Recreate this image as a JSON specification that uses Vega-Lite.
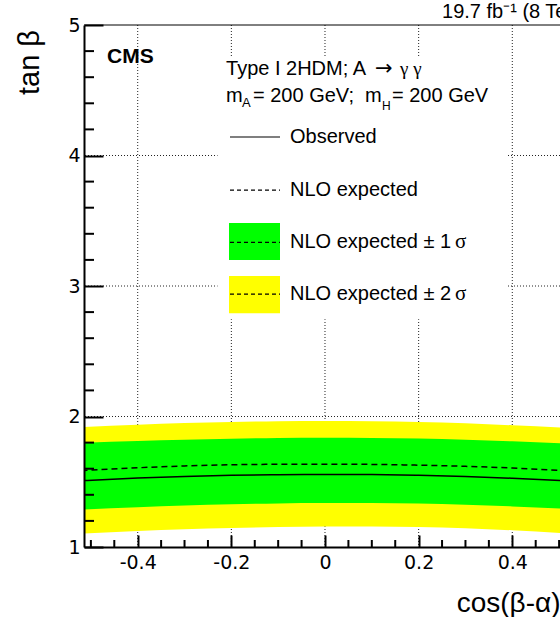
{
  "$schema": "https://vega.github.io/schema/vega-lite/v6.json",
  "width": 476,
  "height": 522,
  "autosize": {"type": "none"},
  "padding": {"left": 84, "top": 25, "right": 0, "bottom": 70},
  "background": "white",
  "config": {"view": {"stroke": null}, "font": "Liberation Sans"},
  "datasets": {
    "limits": [
      {"cba": -0.52, "obs": 1.508, "exp": 1.586, "s1lo": 1.287, "s1hi": 1.798, "s2lo": 1.102, "s2hi": 1.919},
      {"cba": -0.4, "obs": 1.528, "exp": 1.607, "s1lo": 1.305, "s1hi": 1.812, "s2lo": 1.122, "s2hi": 1.937},
      {"cba": -0.3, "obs": 1.541, "exp": 1.621, "s1lo": 1.318, "s1hi": 1.822, "s2lo": 1.136, "s2hi": 1.95},
      {"cba": -0.2, "obs": 1.549, "exp": 1.63, "s1lo": 1.328, "s1hi": 1.83, "s2lo": 1.146, "s2hi": 1.958},
      {"cba": -0.1, "obs": 1.554, "exp": 1.634, "s1lo": 1.334, "s1hi": 1.835, "s2lo": 1.153, "s2hi": 1.963},
      {"cba": 0, "obs": 1.556, "exp": 1.635, "s1lo": 1.337, "s1hi": 1.837, "s2lo": 1.157, "s2hi": 1.965},
      {"cba": 0.1, "obs": 1.555, "exp": 1.633, "s1lo": 1.337, "s1hi": 1.836, "s2lo": 1.158, "s2hi": 1.964},
      {"cba": 0.2, "obs": 1.55, "exp": 1.627, "s1lo": 1.333, "s1hi": 1.831, "s2lo": 1.154, "s2hi": 1.958},
      {"cba": 0.3, "obs": 1.541, "exp": 1.618, "s1lo": 1.324, "s1hi": 1.822, "s2lo": 1.144, "s2hi": 1.948},
      {"cba": 0.4, "obs": 1.527, "exp": 1.605, "s1lo": 1.311, "s1hi": 1.81, "s2lo": 1.128, "s2hi": 1.933},
      {"cba": 0.52, "obs": 1.507, "exp": 1.583, "s1lo": 1.292, "s1hi": 1.792, "s2lo": 1.103, "s2hi": 1.913}
    ],
    "gridx": [{"v": -0.4}, {"v": -0.2}, {"v": 0}, {"v": 0.2}, {"v": 0.4}],
    "gridy": [{"v": 2}, {"v": 3}, {"v": 4}],
    "minorx": [{"v": -0.5}, {"v": -0.45}, {"v": -0.35}, {"v": -0.3}, {"v": -0.25}, {"v": -0.15}, {"v": -0.1}, {"v": -0.05}, {"v": 0.05}, {"v": 0.1}, {"v": 0.15}, {"v": 0.25}, {"v": 0.3}, {"v": 0.35}, {"v": 0.45}, {"v": 0.5}],
    "minory": [{"v": 1.2}, {"v": 1.4}, {"v": 1.6}, {"v": 1.8}, {"v": 2.2}, {"v": 2.4}, {"v": 2.6}, {"v": 2.8}, {"v": 3.2}, {"v": 3.4}, {"v": 3.6}, {"v": 3.8}, {"v": 4.2}, {"v": 4.4}, {"v": 4.6}, {"v": 4.8}],
    "one": [{}]
  },
  "layer": [
    {
      "data": {"name": "gridx"},
      "mark": {"type": "rule", "color": "#222", "strokeWidth": 1, "strokeDash": [1, 2]},
      "encoding": {
        "x": {
          "field": "v", "type": "quantitative", "title": "cos(β-α)",
          "scale": {"domain": [-0.5147, 0.5019], "nice": false, "zero": false},
          "axis": {
            "orient": "bottom",
            "values": [-0.4, -0.2, 0, 0.2, 0.4],
            "grid": false,
            "domain": true, "domainColor": "black", "domainWidth": 2,
            "ticks": true, "tickColor": "black", "tickWidth": 2, "tickSize": -12,
            "labelExpr": "abs(datum.value) < 0.001 ? '0' : (datum.value < 0 ? '-' : '') + format(abs(datum.value), '.1f')",
            "labelFont": "DejaVu Sans", "labelFontSize": 19, "labelColor": "black",
            "labelPadding": 18, "labelFlush": false, "labelOverlap": false, "labelBound": false,
            "titleFont": "Liberation Sans", "titleFontSize": 28, "titleFontWeight": "normal", "titleColor": "black",
            "titleAnchor": "end", "titleAlign": "right", "titleBaseline": "alphabetic", "titleX": 476, "titleY": 64,
            "zindex": 1
          }
        }
      }
    },
    {
      "data": {"name": "gridy"},
      "mark": {"type": "rule", "color": "#222", "strokeWidth": 1, "strokeDash": [1, 2]},
      "encoding": {
        "y": {
          "field": "v", "type": "quantitative", "title": "tan β",
          "scale": {"domain": [1, 5], "nice": false, "zero": false},
          "axis": {
            "orient": "left",
            "values": [1, 2, 3, 4, 5],
            "grid": false,
            "domain": true, "domainColor": "black", "domainWidth": 2,
            "ticks": true, "tickColor": "black", "tickWidth": 2, "tickSize": -19,
            "labelExpr": "format(datum.value, '.0f')",
            "labelFont": "DejaVu Sans", "labelFontSize": 19, "labelColor": "black",
            "labelPadding": 23, "labelFlush": false, "labelOverlap": false, "labelBound": false,
            "titleFont": "Liberation Sans", "titleFontSize": 29, "titleFontWeight": "normal", "titleColor": "black",
            "titleAngle": 270, "titleAlign": "center", "titleBaseline": "middle", "titleX": -55, "titleY": 37,
            "zindex": 1
          }
        }
      }
    },
    {
      "data": {"name": "one"},
      "mark": {"type": "rect", "color": "white"},
      "encoding": {
        "x": {"datum": -0.2296}, "x2": {"datum": 0.3898},
        "y": {"datum": 2.746}, "y2": {"datum": 4.763}
      }
    },
    {
      "data": {"name": "limits"},
      "mark": {"type": "area", "color": "#ffff00", "interpolate": "monotone", "clip": true, "opacity": 1},
      "encoding": {
        "x": {"field": "cba", "type": "quantitative", "title": "cos(β-α)"},
        "y": {"field": "s2lo", "type": "quantitative", "title": "tan β"},
        "y2": {"field": "s2hi"}
      }
    },
    {
      "data": {"name": "limits"},
      "mark": {"type": "area", "color": "#00ff00", "interpolate": "monotone", "clip": true, "opacity": 1},
      "encoding": {
        "x": {"field": "cba", "type": "quantitative", "title": "cos(β-α)"},
        "y": {"field": "s1lo", "type": "quantitative", "title": "tan β"},
        "y2": {"field": "s1hi"}
      }
    },
    {
      "data": {"name": "limits"},
      "mark": {"type": "line", "color": "black", "strokeWidth": 1.5, "strokeDash": [6, 4], "interpolate": "monotone", "clip": true},
      "encoding": {
        "x": {"field": "cba", "type": "quantitative", "title": "cos(β-α)"},
        "y": {"field": "exp", "type": "quantitative", "title": "tan β"}
      }
    },
    {
      "data": {"name": "limits"},
      "mark": {"type": "line", "color": "black", "strokeWidth": 1.5, "interpolate": "monotone", "clip": true},
      "encoding": {
        "x": {"field": "cba", "type": "quantitative", "title": "cos(β-α)"},
        "y": {"field": "obs", "type": "quantitative", "title": "tan β"}
      }
    },
    {
      "data": {"name": "minorx"},
      "mark": {"type": "tick", "orient": "vertical", "size": 7, "thickness": 2, "color": "black", "yOffset": -3.5, "opacity": 1},
      "encoding": {"x": {"field": "v", "type": "quantitative", "title": "cos(β-α)"}, "y": {"datum": 1}}
    },
    {
      "data": {"name": "minory"},
      "mark": {"type": "tick", "orient": "horizontal", "size": 10, "thickness": 2, "color": "black", "xOffset": 5, "opacity": 1},
      "encoding": {"y": {"field": "v", "type": "quantitative", "title": "tan β"}, "x": {"datum": -0.5147}}
    },
    {
      "data": {"name": "one"},
      "mark": {"type": "rule", "color": "black", "strokeWidth": 1},
      "encoding": {"y": {"datum": 5}}
    },
    {
      "data": {"name": "one"},
      "mark": {"type": "rect", "color": "#00ff00"},
      "encoding": {"x": {"datum": -0.205}, "x2": {"datum": -0.0961}, "y": {"datum": 3.199}, "y2": {"datum": 3.482}}
    },
    {
      "data": {"name": "one"},
      "mark": {"type": "rect", "color": "#ffff00"},
      "encoding": {"x": {"datum": -0.205}, "x2": {"datum": -0.0961}, "y": {"datum": 2.792}, "y2": {"datum": 3.076}}
    },
    {
      "data": {"name": "one"},
      "mark": {"type": "rule", "color": "#555", "strokeWidth": 1.5},
      "encoding": {"x": {"datum": -0.2029}, "x2": {"datum": -0.0961}, "y": {"datum": 4.142}}
    },
    {
      "data": {"name": "one"},
      "mark": {"type": "rule", "color": "black", "strokeWidth": 1.2, "strokeDash": [4, 3]},
      "encoding": {"x": {"datum": -0.2029}, "x2": {"datum": -0.0961}, "y": {"datum": 3.735}}
    },
    {
      "data": {"name": "one"},
      "mark": {"type": "rule", "color": "black", "strokeWidth": 1.2, "strokeDash": [4, 3]},
      "encoding": {"x": {"datum": -0.2029}, "x2": {"datum": -0.0961}, "y": {"datum": 3.335}}
    },
    {
      "data": {"name": "one"},
      "mark": {"type": "rule", "color": "black", "strokeWidth": 1.2, "strokeDash": [4, 3]},
      "encoding": {"x": {"datum": -0.2029}, "x2": {"datum": -0.0961}, "y": {"datum": 2.938}}
    },
    {
      "data": {"name": "one"},
      "mark": {"type": "text", "text": "Observed", "font": "Liberation Sans", "fontSize": 20, "align": "left", "baseline": "middle", "color": "black"},
      "encoding": {"x": {"datum": -0.0747}, "y": {"datum": 4.142}}
    },
    {
      "data": {"name": "one"},
      "mark": {"type": "text", "text": "NLO expected", "font": "Liberation Sans", "fontSize": 20, "align": "left", "baseline": "middle", "color": "black"},
      "encoding": {"x": {"datum": -0.0747}, "y": {"datum": 3.735}}
    },
    {
      "data": {"name": "one"},
      "mark": {"type": "text", "text": "NLO expected ± 1", "font": "Liberation Sans", "fontSize": 20, "align": "left", "baseline": "middle", "color": "black"},
      "encoding": {"x": {"datum": -0.0747}, "y": {"datum": 3.335}}
    },
    {
      "data": {"name": "one"},
      "mark": {"type": "text", "text": "σ", "font": "Liberation Serif", "fontSize": 21, "align": "left", "baseline": "middle", "color": "black"},
      "encoding": {"x": {"datum": 0.2776}, "y": {"datum": 3.335}}
    },
    {
      "data": {"name": "one"},
      "mark": {"type": "text", "text": "NLO expected ± 2", "font": "Liberation Sans", "fontSize": 20, "align": "left", "baseline": "middle", "color": "black"},
      "encoding": {"x": {"datum": -0.0747}, "y": {"datum": 2.938}}
    },
    {
      "data": {"name": "one"},
      "mark": {"type": "text", "text": "σ", "font": "Liberation Serif", "fontSize": 21, "align": "left", "baseline": "middle", "color": "black"},
      "encoding": {"x": {"datum": 0.2776}, "y": {"datum": 2.938}}
    },
    {
      "data": {"name": "one"},
      "mark": {"type": "text", "text": "Type I 2HDM; A", "font": "Liberation Sans", "fontSize": 20, "align": "left", "baseline": "alphabetic", "color": "black"},
      "encoding": {"x": {"datum": -0.2114}, "y": {"datum": 4.617}}
    },
    {
      "data": {"name": "one"},
      "mark": {"type": "text", "text": "→", "font": "DejaVu Sans", "fontSize": 21, "align": "left", "baseline": "alphabetic", "color": "black"},
      "encoding": {"x": {"datum": 0.1068}, "y": {"datum": 4.617}}
    },
    {
      "data": {"name": "one"},
      "mark": {"type": "text", "text": "γ  γ", "font": "Liberation Serif", "fontSize": 19, "align": "left", "baseline": "alphabetic", "color": "black"},
      "encoding": {"x": {"datum": 0.1602}, "y": {"datum": 4.617}}
    },
    {
      "data": {"name": "one"},
      "mark": {"type": "text", "text": "m", "font": "Liberation Sans", "fontSize": 20, "align": "left", "baseline": "alphabetic", "color": "black"},
      "encoding": {"x": {"datum": -0.2114}, "y": {"datum": 4.4126}}
    },
    {
      "data": {"name": "one"},
      "mark": {"type": "text", "text": "A", "font": "Liberation Sans", "fontSize": 13, "align": "left", "baseline": "alphabetic", "color": "black"},
      "encoding": {"x": {"datum": -0.1773}, "y": {"datum": 4.372}}
    },
    {
      "data": {"name": "one"},
      "mark": {"type": "text", "text": "= 200 GeV;", "font": "Liberation Sans", "fontSize": 20, "align": "left", "baseline": "alphabetic", "color": "black"},
      "encoding": {"x": {"datum": -0.1538}, "y": {"datum": 4.4126}}
    },
    {
      "data": {"name": "one"},
      "mark": {"type": "text", "text": "m", "font": "Liberation Sans", "fontSize": 20, "align": "left", "baseline": "alphabetic", "color": "black"},
      "encoding": {"x": {"datum": 0.0854}, "y": {"datum": 4.4126}}
    },
    {
      "data": {"name": "one"},
      "mark": {"type": "text", "text": "H", "font": "Liberation Sans", "fontSize": 12, "align": "left", "baseline": "alphabetic", "color": "black"},
      "encoding": {"x": {"datum": 0.1217}, "y": {"datum": 4.349}}
    },
    {
      "data": {"name": "one"},
      "mark": {"type": "text", "text": "= 200 GeV", "font": "Liberation Sans", "fontSize": 20, "align": "left", "baseline": "alphabetic", "color": "black"},
      "encoding": {"x": {"datum": 0.1431}, "y": {"datum": 4.4126}}
    },
    {
      "data": {"name": "one"},
      "mark": {"type": "text", "text": "CMS", "font": "Liberation Sans", "fontSize": 21, "fontWeight": "bold", "align": "left", "baseline": "alphabetic", "color": "black"},
      "encoding": {"x": {"datum": -0.4656}, "y": {"datum": 4.709}}
    },
    {
      "data": {"name": "one"},
      "mark": {"type": "text", "text": "19.7 fb⁻¹ (8 TeV)", "font": "Liberation Sans", "fontSize": 20, "align": "left", "baseline": "alphabetic", "color": "black", "clip": false},
      "encoding": {"x": {"datum": 0.2499}, "y": {"datum": 5.054}}
    }
  ]
}
